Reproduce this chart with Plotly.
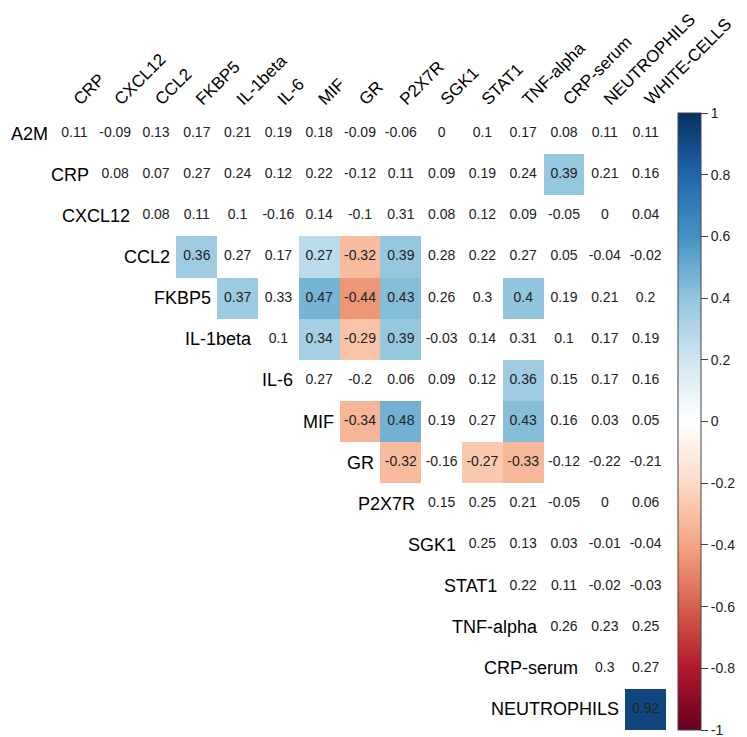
import plotly.graph_objects as go

row_labels = ["A2M", "CRP", "CXCL12", "CCL2", "FKBP5", "IL-1beta", "IL-6", "MIF",
              "GR", "P2X7R", "SGK1", "STAT1", "TNF-alpha", "CRP-serum", "NEUTROPHILS"]
col_labels = ["CRP", "CXCL12", "CCL2", "FKBP5", "IL-1beta", "IL-6", "MIF", "GR",
              "P2X7R", "SGK1", "STAT1", "TNF-alpha", "CRP-serum", "NEUTROPHILS", "WHITE-CELLS"]

# upper-triangle values: row i holds columns i..14
values = [
    [0.11, -0.09, 0.13, 0.17, 0.21, 0.19, 0.18, -0.09, -0.06, 0, 0.1, 0.17, 0.08, 0.11, 0.11],
    [0.08, 0.07, 0.27, 0.24, 0.12, 0.22, -0.12, 0.11, 0.09, 0.19, 0.24, 0.39, 0.21, 0.16],
    [0.08, 0.11, 0.1, -0.16, 0.14, -0.1, 0.31, 0.08, 0.12, 0.09, -0.05, 0, 0.04],
    [0.36, 0.27, 0.17, 0.27, -0.32, 0.39, 0.28, 0.22, 0.27, 0.05, -0.04, -0.02],
    [0.37, 0.33, 0.47, -0.44, 0.43, 0.26, 0.3, 0.4, 0.19, 0.21, 0.2],
    [0.1, 0.34, -0.29, 0.39, -0.03, 0.14, 0.31, 0.1, 0.17, 0.19],
    [0.27, -0.2, 0.06, 0.09, 0.12, 0.36, 0.15, 0.17, 0.16],
    [-0.34, 0.48, 0.19, 0.27, 0.43, 0.16, 0.03, 0.05],
    [-0.32, -0.16, -0.27, -0.33, -0.12, -0.22, -0.21],
    [0.15, 0.25, 0.21, -0.05, 0, 0.06],
    [0.25, 0.13, 0.03, -0.01, -0.04],
    [0.22, 0.11, -0.02, -0.03],
    [0.26, 0.23, 0.25],
    [0.3, 0.27],
    [0.92],
]

# significant (coloured) cells as (row, column) label pairs
significant = [
    ("CRP", "CRP-serum"),
    ("CCL2", "FKBP5"), ("CCL2", "MIF"), ("CCL2", "GR"), ("CCL2", "P2X7R"),
    ("FKBP5", "IL-1beta"), ("FKBP5", "MIF"), ("FKBP5", "GR"), ("FKBP5", "P2X7R"), ("FKBP5", "TNF-alpha"),
    ("IL-1beta", "MIF"), ("IL-1beta", "GR"), ("IL-1beta", "P2X7R"),
    ("IL-6", "TNF-alpha"),
    ("MIF", "GR"), ("MIF", "P2X7R"), ("MIF", "TNF-alpha"),
    ("GR", "P2X7R"), ("GR", "STAT1"), ("GR", "TNF-alpha"),
    ("NEUTROPHILS", "WHITE-CELLS"),
]

colorbar_ticks = [1, 0.8, 0.6, 0.4, 0.2, 0, -0.2, -0.4, -0.6, -0.8, -1]

rdbu = ["#67001F", "#B2182B", "#D6604D", "#F4A582", "#FDDBC7", "#FFFFFF",
        "#D1E5F0", "#92C5DE", "#4393C3", "#2166AC", "#053061"]
colorscale = [[i / 10, c] for i, c in enumerate(rdbu)]

FONT = "Liberation Sans, Arial"
n = len(row_labels)
sig = set(significant)
z = [[None] * n for _ in range(n)]
tx, ty, tt = [], [], []
for i, r in enumerate(row_labels):
    for k, v in enumerate(values[i]):
        j = i + k
        c = col_labels[j]
        tx.append(c)
        ty.append(r)
        tt.append(f"{v:g}")
        if (r, c) in sig:
            z[i][j] = v

L, R = 46, 89
PW = 747 - L - R

fig = go.Figure()
fig.add_trace(go.Heatmap(
    z=z, x=col_labels, y=row_labels, zmin=-1, zmax=1, colorscale=colorscale,
    hoverongaps=False, xgap=0, ygap=0,
    colorbar=dict(
        x=1 + 11.5 / PW, xanchor="left", xpad=0,
        y=0.5, yanchor="middle", len=1, ypad=0, thickness=23,
        outlinewidth=1, outlinecolor="#444",
        tickvals=colorbar_ticks, ticktext=[f"{t:g}" for t in colorbar_ticks],
        ticks="outside", ticklen=7, tickcolor="#444",
        tickfont=dict(family=FONT, size=14, color="#222"),
    ),
))
fig.add_trace(go.Scatter(
    x=tx, y=ty, text=tt, mode="text",
    textfont=dict(family=FONT, size=14, color="#222"),
    hoverinfo="skip", showlegend=False,
))

for i, r in enumerate(row_labels):
    fig.add_annotation(x=i - 0.5, y=r, text=r, showarrow=False, xanchor="right",
                       yanchor="middle", xshift=-4,
                       font=dict(family=FONT, size=18, color="black"))

fig.update_xaxes(side="top", tickangle=-45, showgrid=False, zeroline=False, showline=False,
                 ticks="", automargin=False,
                 tickfont=dict(family=FONT, size=17, color="black"),
                 range=[-0.5, n - 0.5], categoryorder="array", categoryarray=col_labels)
fig.update_yaxes(range=[n - 0.5, -0.5], showgrid=False, zeroline=False, showline=False,
                 showticklabels=False, ticks="", automargin=False,
                 categoryorder="array", categoryarray=row_labels)

fig.update_layout(
    width=747, height=737,
    margin=dict(l=L, r=R, t=105, b=15, autoexpand=False),
    paper_bgcolor="white", plot_bgcolor="white",
    showlegend=False,
)

fig.write_html("out.html")
